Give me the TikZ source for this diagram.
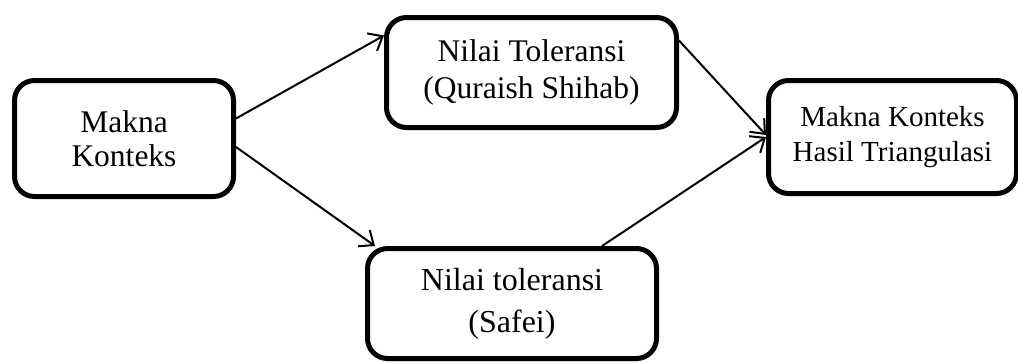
\documentclass[tikz,border=0pt]{standalone}
\usepackage{fontspec}
\setmainfont{Liberation Serif}
\usetikzlibrary{arrows.meta,positioning}

\begin{document}
\begin{tikzpicture}[
    node distance=40pt and 40pt,
    mybox/.style={draw, rounded corners=10pt, line width=2.5pt, align=center, inner sep=2pt},
    myedge/.style={-{Straight Barb[length=6pt,width=10pt]}, line width=1pt}
]
\useasboundingbox (0,0) rectangle (509pt,-180.5pt);
\node[mybox, minimum width=109.5pt, minimum height=58pt, font=\fontsize{15.75}{17}\selectfont] (mk) at (62pt,-69.25pt) {Makna\\Konteks};
\node[mybox, minimum width=145pt, minimum height=55pt, font=\fontsize{15.75}{18.5}\selectfont] (qs) [right=74pt of mk, yshift=33pt] {Nilai Toleransi\\(Quraish Shihab)};
\node[mybox, minimum width=144.5pt, minimum height=55pt, font=\fontsize{16}{21}\selectfont] (sf) [right=64.5pt of mk, yshift=-82.5pt] {Nilai toleransi\\(Safei)};
\node[mybox, minimum width=124pt, minimum height=56.5pt, font=\fontsize{14.5}{17.5}\selectfont] (hs) [right=43.5pt of qs, yshift=-32.25pt] {Makna Konteks\\Hasil Triangulasi};

\draw[myedge] ([yshift=10pt]mk.east) -- ([yshift=18.5pt]qs.west);
\draw[myedge] ([yshift=-4.25pt]mk.east) -- ([xshift=5pt]sf.north west);
\draw[myedge] ([yshift=16pt]qs.east) -- ([yshift=1pt]hs.west);
\draw[myedge] ([xshift=45pt]sf.north) -- (hs.west);
\end{tikzpicture}
\end{document}
